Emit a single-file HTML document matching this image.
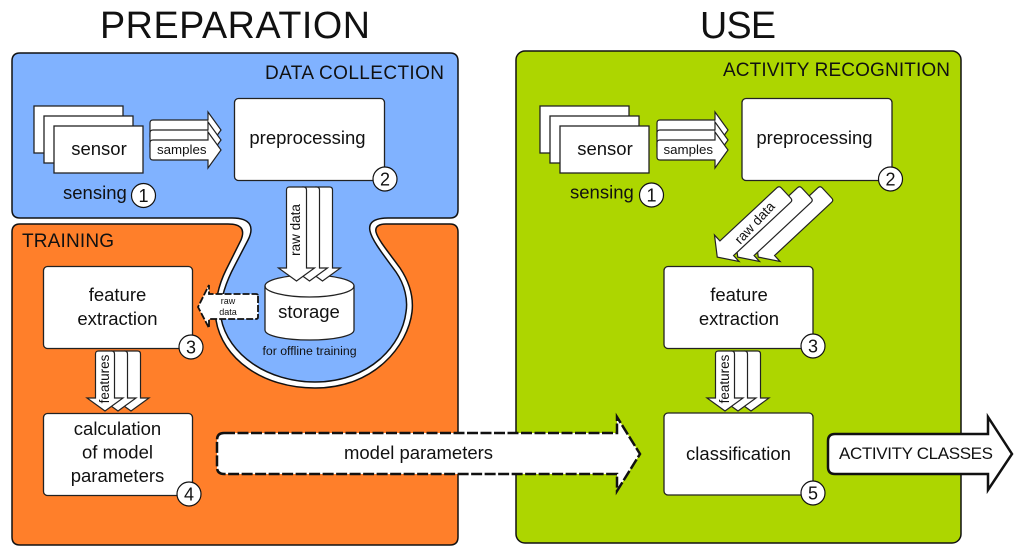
<!DOCTYPE html>
<html><head><meta charset="utf-8"><style>
html,body{margin:0;padding:0;background:#fff}
svg{display:block}
text{font-family:"Liberation Sans",sans-serif;fill:#111}
.m{text-anchor:middle}
.b{fill:#fff;stroke:#222;stroke-width:1.3}
.c{fill:#fff;stroke:#111;stroke-width:1.2}
.a{fill:#fff;stroke:#222;stroke-width:1.2;stroke-linejoin:miter}
</style></head><body>
<svg xmlns="http://www.w3.org/2000/svg" width="1024" height="558" viewBox="0 0 1024 558">
<defs>
<path id="right" d="M3 0H58V-8L71 10L58 28V20H3Q0 20 0 17V3Q0 0 3 0Z"/>
<path id="down" d="M-10 3Q-10 0 -7 0H7Q10 0 10 3V81H18L0 94L-18 81H-10Z"/>
<path id="downf" d="M-9.500 3Q-9.500 0 -6.500 0H6.500Q9.500 0 9.500 3V47H18L0 60L-18 47H-9.500Z"/>
</defs>
<rect width="1024" height="558" fill="#fff"/>
<text x="100" y="38" font-size="37.7" textLength="270">PREPARATION</text>
<text x="700" y="38" font-size="37.7" textLength="76">USE</text>

<path d="M20 224H228C242 224 245 230 241 240L226 270C219 284 214 303 216 320C222 358 262 388 315 388C375 388 408 345 412 312C414 295 408 280 400 268C390 254 378 240 376 232C375 227 378 224 386 224H450Q458 224 458 232V537Q458 545 450 545H20Q12 545 12 537V232Q12 224 20 224Z" fill="#ff7f2a" stroke="#111" stroke-width="1.5"/>
<path d="M20 53H450Q458 53 458 61V210Q458 218 450 218H388C375 218 368 222 370 231C372 241 386 258 396 272C405 285 408 300 406 312C402 345 370 382 315 382C268 382 228 355 221 318C219 300 227 280 235 265L248 240C254 228 252 218 232 218H20Q12 218 12 210V61Q12 53 20 53Z" fill="#80b2ff" stroke="#111" stroke-width="1.5"/>
<rect x="516" y="51" width="445" height="492" rx="9" fill="#add600" stroke="#111" stroke-width="1.5"/>

<text x="265" y="79" font-size="19" textLength="179">DATA COLLECTION</text>
<text x="22" y="247" font-size="19" textLength="92">TRAINING</text>
<text x="723" y="76" font-size="19" textLength="227">ACTIVITY RECOGNITION</text>

<!-- left sensing -->
<rect class="b" x="34" y="106" width="89" height="47"/>
<rect class="b" x="44" y="116" width="89" height="47"/>
<rect class="b" x="54" y="126" width="89" height="47"/>
<text class="m" x="99" y="155" font-size="18.500">sensor</text>
<use href="#right" class="a" x="150" y="120"/>
<use href="#right" class="a" x="150" y="130"/>
<use href="#right" class="a" x="150" y="140"/>
<text x="157" y="154" font-size="13.300">samples</text>
<text x="63" y="199" font-size="18.500">sensing</text>
<circle class="c" cx="143.500" cy="195.500" r="12"/><text class="m" x="143.500" y="202" font-size="18">1</text>

<rect class="b" x="234.500" y="98.500" width="150" height="82" rx="4"/>
<text class="m" x="307.500" y="144" font-size="18.500">preprocessing</text>
<circle class="c" cx="385" cy="179" r="12"/><text class="m" x="385" y="185.500" font-size="18">2</text>

<!-- storage -->
<path class="b" d="M265 286C265 280 285 275 309.500 275S354 280 354 286V330C354 336 334 340 309.500 340S265 336 265 330Z"/>
<path fill="none" stroke="#222" stroke-width="1.300" d="M265 286C265 292 285 297 309.500 297S354 292 354 286"/>
<use href="#down" class="a" x="322.500" y="187"/>
<use href="#down" class="a" x="309.500" y="187"/>
<use href="#down" class="a" x="296.500" y="187"/>
<text class="m" font-size="13.500" transform="translate(300,230) rotate(-90)">raw data</text>
<text class="m" x="309" y="318" font-size="18.500">storage</text>
<text class="m" x="309.500" y="355" font-size="12.300">for offline training</text>

<path d="M258 296V317Q258 319 256 319H209V328L198 307L209 285V294H256Q258 294 258 296Z" fill="#fff" stroke="#111" stroke-width="1.800" stroke-dasharray="7 2"/>
<text class="m" x="228" y="304" font-size="9">raw</text>
<text class="m" x="228" y="315" font-size="9">data</text>

<!-- feature extraction left -->
<rect class="b" x="43.500" y="266.500" width="149" height="82" rx="4"/>
<text class="m" x="117.500" y="301" font-size="18.500">feature</text>
<text class="m" x="117.500" y="325" font-size="18.500">extraction</text>
<circle class="c" cx="191" cy="347" r="12"/><text class="m" x="191" y="353.500" font-size="18">3</text>

<use href="#downf" class="a" x="131" y="351"/>
<use href="#downf" class="a" x="118" y="351"/>
<use href="#downf" class="a" x="105" y="351"/>
<text class="m" font-size="13.500" transform="translate(109,379) rotate(-90)">features</text>

<rect class="b" x="43.500" y="413.500" width="149" height="82" rx="4"/>
<text class="m" x="117.500" y="435" font-size="18.500">calculation</text>
<text class="m" x="117.500" y="458.500" font-size="18.500">of model</text>
<text class="m" x="117.500" y="482" font-size="18.500">parameters</text>
<circle class="c" cx="189" cy="494" r="12"/><text class="m" x="189" y="500.500" font-size="18">4</text>

<!-- model parameters -->
<path d="M224 433H617V417L640 454L617 491V474H224Q217 474 217 467V440Q217 433 224 433Z" fill="#fff" stroke="#111" stroke-width="2.500" stroke-dasharray="11 2.500"/>
<text class="m" x="418.500" y="459" font-size="18.500">model parameters</text>

<!-- right sensing -->
<rect class="b" x="540" y="106" width="89" height="47"/>
<rect class="b" x="550" y="116" width="89" height="47"/>
<rect class="b" x="560" y="126" width="89" height="47"/>
<text class="m" x="605" y="155" font-size="18.500">sensor</text>
<use href="#right" class="a" x="657" y="120"/>
<use href="#right" class="a" x="657" y="130"/>
<use href="#right" class="a" x="657" y="140"/>
<text x="663.500" y="154" font-size="13.300">samples</text>
<text x="570" y="198.500" font-size="18.500">sensing</text>
<circle class="c" cx="651.500" cy="195" r="12"/><text class="m" x="651.500" y="201.500" font-size="18">1</text>

<rect class="b" x="742" y="98.500" width="150" height="82" rx="4"/>
<text class="m" x="814.500" y="144" font-size="18.500">preprocessing</text>
<circle class="c" cx="890.500" cy="179" r="12"/><text class="m" x="890.500" y="185.500" font-size="18">2</text>

<use href="#down" class="a" transform="translate(827,193) rotate(47)"/>
<use href="#down" class="a" transform="translate(806.500,193) rotate(47)"/>
<use href="#down" class="a" transform="translate(786,193) rotate(47)"/>
<text class="m" font-size="13.500" transform="translate(758,226) rotate(-47)">raw data</text>

<rect class="b" x="664" y="266.500" width="149" height="82" rx="4"/>
<text class="m" x="739" y="301" font-size="18.500">feature</text>
<text class="m" x="739" y="325" font-size="18.500">extraction</text>
<circle class="c" cx="813" cy="346" r="12"/><text class="m" x="813" y="352.500" font-size="18">3</text>

<use href="#downf" class="a" x="751" y="351"/>
<use href="#downf" class="a" x="738" y="351"/>
<use href="#downf" class="a" x="725" y="351"/>
<text class="m" font-size="13.500" transform="translate(729,379) rotate(-90)">features</text>

<rect class="b" x="664" y="413" width="149" height="82" rx="4"/>
<text class="m" x="738.500" y="460" font-size="18.500">classification</text>
<circle class="c" cx="813" cy="493" r="12"/><text class="m" x="813" y="499.500" font-size="18">5</text>

<path d="M835 434H988V417L1012 454L988 490V474H835Q828 474 828 467V441Q828 434 835 434Z" fill="#fff" stroke="#111" stroke-width="2.500"/>
<text x="839" y="459" font-size="17" textLength="154">ACTIVITY CLASSES</text>
</svg>
</body></html>
